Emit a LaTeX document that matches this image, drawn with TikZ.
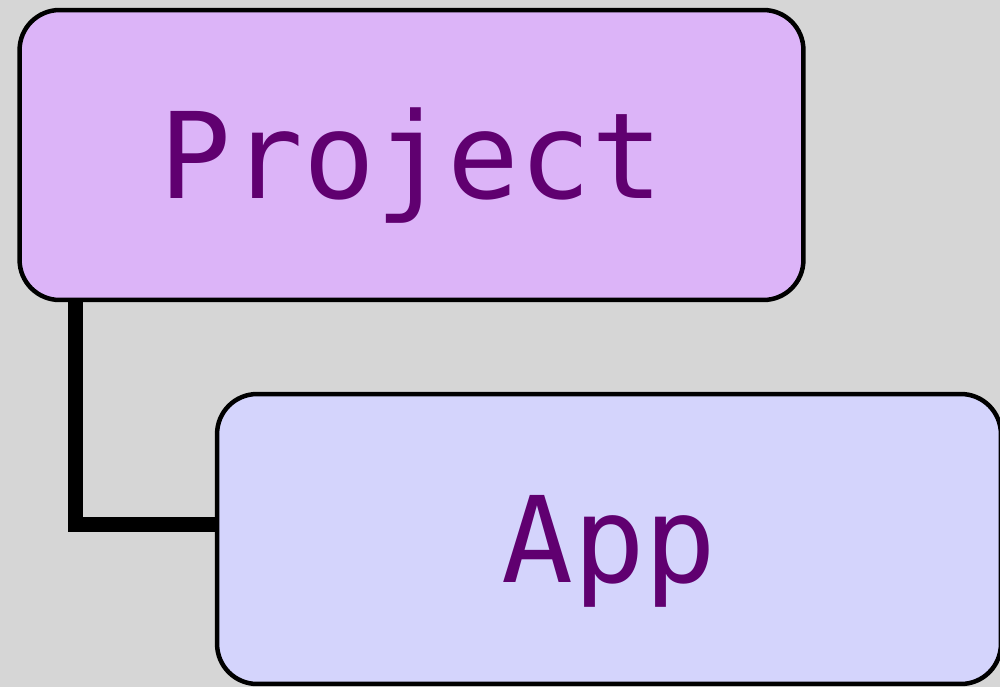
\documentclass[tikz,border=0pt]{standalone}
\usepackage{fontspec}
\newfontfamily\boxfont{DejaVu Sans Mono}
\usepackage{tikz}

\definecolor{bggray}{RGB}{214,214,214}
\definecolor{projfill}{RGB}{220,180,248}
\definecolor{appfill}{RGB}{212,212,252}
\definecolor{labelpurple}{RGB}{96,0,112}

\tikzset{
  folder/.style={draw=black, line width=0.09cm, rounded corners=0.8cm,
    minimum width=15.68cm, minimum height=5.8cm, inner sep=0pt,
    text height=49pt, text depth=0pt,
    text=labelpurple, font=\boxfont\fontsize{68}{72}\selectfont},
  connector/.style={draw=black, line width=0.3cm}
}

\begin{document}
\begin{tikzpicture}[x=0.02cm, y=-0.02cm]
    \fill[bggray] (0,0) rectangle (1000,687);
    \useasboundingbox (0,0) rectangle (1000,687);
    \node[folder, fill=projfill] (project) at (411.5,155) {Project};
    \node[folder, fill=appfill] (app) at (609,539) {App};
    \draw[connector] ([xshift=1.16cm]project.south west) |- ([yshift=0.3cm]app.west);
  \end{tikzpicture}
\end{document}
